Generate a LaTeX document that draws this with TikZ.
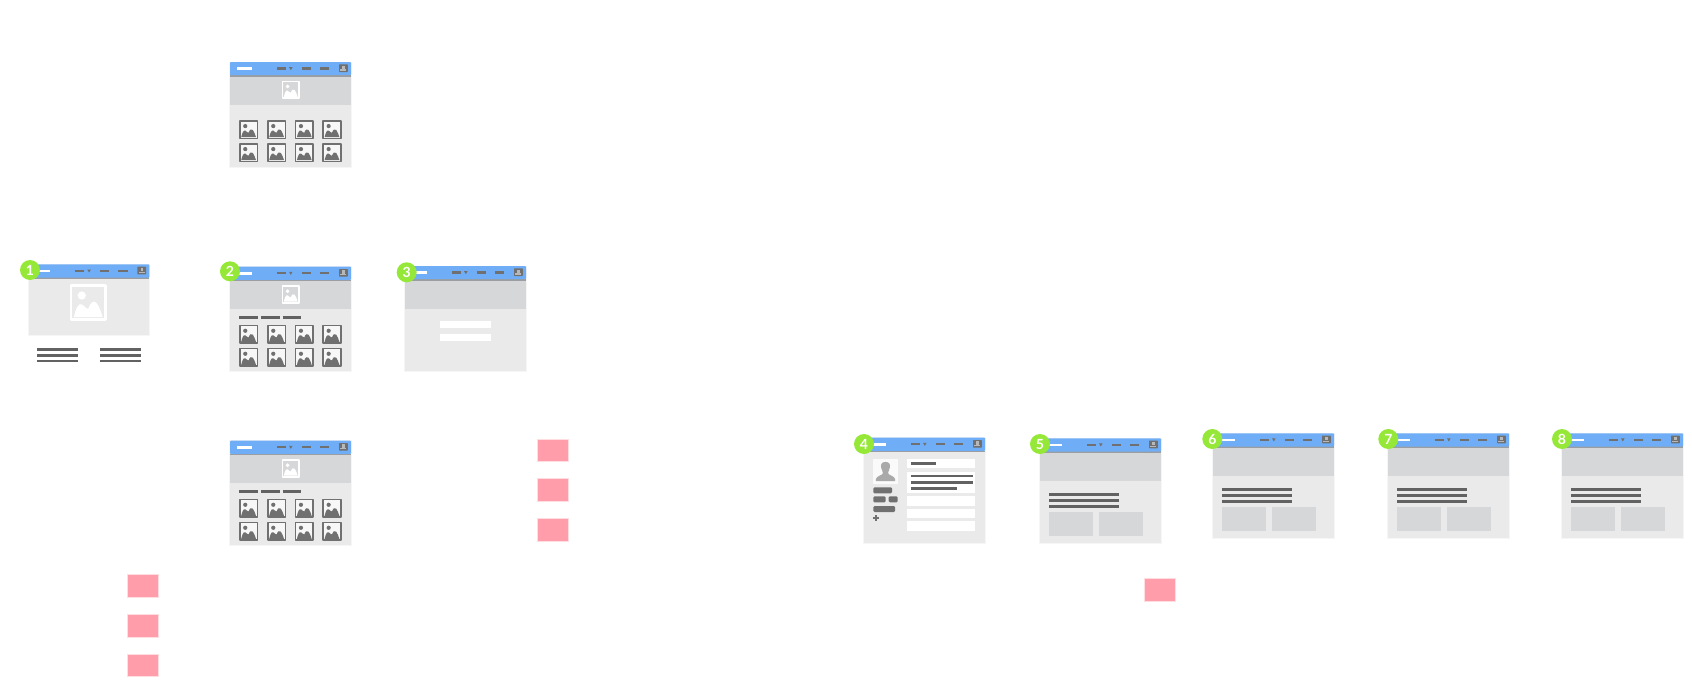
\documentclass[tikz,border=0pt]{standalone}
\usepackage{fontspec}
\setmainfont{Lato}
\definecolor{barblue}{HTML}{6FAEF6}
\definecolor{barshade}{HTML}{9A9DA2}
\definecolor{bandgray}{HTML}{D6D7D9}
\definecolor{bodygray}{HTML}{EAEAEA}
\definecolor{edgegray}{HTML}{F6F6F6}
\definecolor{inkgray}{HTML}{707070}
\definecolor{linegray}{HTML}{626262}
\definecolor{pinkbox}{HTML}{FF9EAA}
\definecolor{badgegreen}{HTML}{96E838}
\definecolor{personwhite}{HTML}{FAFAFA}
\definecolor{persongray}{HTML}{A9A9A9}
\tikzset{
  badge/.style={circle,fill=badgegreen,draw=none,minimum size=20pt,inner sep=0pt,text=white,font=\fontsize{14}{14}\selectfont\bfseries},
  pinknote/.style={fill=pinkbox,draw=pinkbox!35,line width=.5pt},
  textline/.style={draw=linegray,line width=2.6pt},
  navline/.style={draw=inkgray,line width=2.3pt},
  pill/.style={fill=inkgray,draw=none,rounded corners=1.2pt},
  whitebox/.style={fill=white,draw=none},
}
% frame of a window at the scope origin; #1 = body bottom
\newcommand{\wframe}[1]{%
  \fill[bodygray] (0,0) rectangle (121,#1);
  \draw[edgegray,line width=.5pt] (-.3,0) rectangle (121.3,#1+.3);
}
\newcommand{\wbar}{%
  \fill[barshade] (0,13) rectangle (121,14.6);
  \fill[barblue,rounded corners=.8pt] (0,0) rectangle (121,13.2);
  \draw[white,line width=2.4pt] (7,6.6) -- (22,6.6);
  \draw[navline] (46.7,6.6) -- (56,6.6);
  \fill[inkgray] (59,5.1) -- (62.6,5.1) -- (60.8,8.2) -- cycle;
  \draw[navline] (71.7,6.6) -- (81,6.6);
  \draw[navline] (90,6.6) -- (99.3,6.6);
  \fill[inkgray,rounded corners=.6pt] (109,2.3) rectangle (117.8,10);
  \fill[bandgray!70!inkgray] (112.2,3.6) rectangle (114.6,7);
  \fill[bandgray!70!inkgray] (110.4,7.2) rectangle (116.4,8.6);
}
\newcommand{\band}{\fill[bandgray] (0,14) rectangle (121,42.6);}
% #1 x, #2 y, #3 size, #4 colour, #5 stroke, #6 inner fill
\newcommand{\imgicon}[6]{%
  \begin{scope}[shift={(#1,#2)},x=#3pt,y=-#3pt]
    \fill[#6] (0,0) rectangle (1,1);
    \draw[#4,line width=#5pt,line join=round] (0,0) rectangle (1,1);
    \fill[#4] (.31,.30) circle[x radius=.12,y radius=.12];
    \fill[#4] (.08,.93) .. controls (.14,.66) and (.22,.50) .. (.32,.56)
       .. controls (.40,.60) and (.44,.70) .. (.50,.68)
       .. controls (.56,.50) and (.66,.42) .. (.74,.52)
       .. controls (.82,.62) and (.88,.80) .. (.92,.93) -- cycle;
  \end{scope}
}
\newcommand{\icongrid}{%
  \imgicon{52.5}{19.5}{16.5}{white}{1.6}{bandgray}
  \foreach \cx in {9.8,37.8,65.5,93.2}{
    \foreach \cy in {58.8,81.8}{
      \imgicon{\cx}{\cy}{17.6}{inkgray}{1.5}{bodygray!40!white}
    }
  }
}
\newcommand{\tabs}{%
  \draw[textline,line width=2.4pt] (9.3,50.8) -- (28,50.8);
  \draw[textline,line width=2.4pt] (31,50.8) -- (49.7,50.8);
  \draw[textline,line width=2.4pt] (52.7,50.8) -- (71.3,50.8);
}
\newcommand{\article}{%
  \band
  \foreach \ly in {56.4,62.3,68}{\draw[textline] (9,\ly) -- (78.7,\ly);}
  \fill[bandgray] (9,74) rectangle (53,98);
  \fill[bandgray] (59,74) rectangle (103,98);
}
\begin{document}
\begin{tikzpicture}[x=1pt,y=-1pt]
\path[use as bounding box] (0,0) rectangle (1692,680);

% top window
\begin{scope}[shift={(230,62)}]
  \wframe{104.6}\band\wbar\icongrid
\end{scope}

% window 1
\begin{scope}[shift={(28.3,264.4)}]
  \wframe{70.4}\wbar
  \imgicon{42.8}{20.8}{34.4}{white}{2.6}{bodygray}
\end{scope}
\foreach \ly in {349.4,355.3,361}{
  \draw[textline] (37.3,\ly) -- (78.3,\ly);
  \draw[textline] (100,\ly) -- (141,\ly);
}
\node[badge] (b1) at (30,270) {1};

% window 2
\begin{scope}[shift={(230,266.7)}]
  \wframe{104}\band\wbar\icongrid\tabs
\end{scope}
\node[badge] (b2) at (230,271.3) {2};

% window 3
\begin{scope}[shift={(405,266)}]
  \wframe{105}\band\wbar
  \fill[white] (35,55.3) rectangle (85.7,62);
  \fill[white] (35,68.3) rectangle (85.7,75);
\end{scope}
\node[badge] (b3) at (406.7,272.3) {3};

% lower grid window
\begin{scope}[shift={(230,440.7)}]
  \wframe{104}\band\wbar\icongrid\tabs
\end{scope}

% window 4: profile
\begin{scope}[shift={(864,437.7)}]
  \wframe{105}\wbar
  \fill[personwhite] (9.3,21.3) rectangle (33.7,46.3);
  \fill[persongray] (21.5,24.2) .. controls (25.5,24.2) and (26.6,27) .. (25.8,30)
     .. controls (25.3,32.2) and (24.2,33.8) .. (24,35.4)
     .. controls (24.4,37.6) and (30.4,38) .. (31.2,41.6)
     -- (31.2,43.4) -- (11.8,43.4) -- (11.8,41.6)
     .. controls (12.6,38) and (18.6,37.6) .. (19,35.4)
     .. controls (18.8,33.8) and (17.7,32.2) .. (17.2,30)
     .. controls (16.4,27) and (17.5,24.2) .. (21.5,24.2) -- cycle;
  \fill[pill] (9.3,49.6) rectangle (28,55.7);
  \fill[pill] (9.3,58.6) rectangle (21.7,64.7);
  \fill[pill] (24.7,58.6) rectangle (33.7,64.7);
  \fill[pill] (9.3,68.3) rectangle (31,74.3);
  \draw[inkgray,line width=1.7pt] (9.4,80.6) -- (15.2,80.6) (12.3,77.7) -- (12.3,83.5);
  \fill[whitebox] (43,21.3) rectangle (111.3,30.7);
  \fill[whitebox] (43,34) rectangle (111.3,55.7);
  \fill[whitebox] (43,58.6) rectangle (111.3,68);
  \fill[whitebox] (43,71.3) rectangle (111.3,80.7);
  \fill[whitebox] (43,83.6) rectangle (111.3,93);
  \draw[textline] (46.7,26) -- (71.7,26);
  \draw[textline] (46.7,38.3) -- (108.7,38.3);
  \draw[textline] (46.7,44.6) -- (108.7,44.6);
  \draw[textline] (46.7,51) -- (93.3,51);
\end{scope}
\node[badge] (b4) at (864,444) {4};

% windows 5 to 8: article pages
\begin{scope}[shift={(1040,438.3)}]
  \wframe{104.7}\article\wbar
\end{scope}
\node[badge] (b5) at (1040,444) {5};
\begin{scope}[shift={(1213,433.3)}]
  \wframe{104.5}\article\wbar
\end{scope}
\node[badge] (b6) at (1212.3,439) {6};
\begin{scope}[shift={(1388,433.3)}]
  \wframe{104.5}\article\wbar
\end{scope}
\node[badge] (b7) at (1388.3,439) {7};
\begin{scope}[shift={(1562,433.3)}]
  \wframe{104.5}\article\wbar
\end{scope}
\node[badge] (b8) at (1562,439) {8};

% pink notes
\foreach \nx/\ny in {127/574.7,127/614.3,127/654,537.7/439,537.7/478.7,537.7/518.3,1144/578.3}{
  \fill[pinknote] (\nx,\ny) rectangle ++(31,22.6);
}
\end{tikzpicture}
\end{document}
